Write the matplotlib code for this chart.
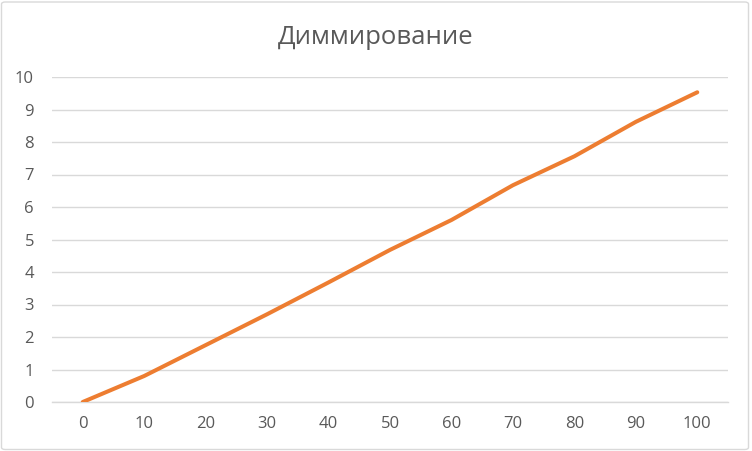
import matplotlib
matplotlib.use("Agg")
import matplotlib.pyplot as plt
from matplotlib.patches import FancyBboxPatch

categories = ["0", "10", "20", "30", "40", "50", "60", "70", "80", "90", "100"]
values = [0.0, 0.8, 1.75, 2.7, 3.68, 4.68, 5.6, 6.67, 7.56, 8.62, 9.53]
yticks = [0, 1, 2, 3, 4, 5, 6, 7, 8, 9, 10]
title = "Диммирование"

W, H = 752, 451
fig = plt.figure(figsize=(W / 100, H / 100), dpi=100)
fig.patch.set_facecolor("white")
border = FancyBboxPatch((1.5 / W, 1.5 / H), 1 - 5 / W, 1 - 3.5 / H,
                        boxstyle="round,pad=0,rounding_size=0.005",
                        transform=fig.transFigure, facecolor="none",
                        edgecolor="#D9D9D9", linewidth=1.0, zorder=5)
fig.patches.append(border)

left, right = 52, 728
top, bottom = 77, 402
ax = fig.add_axes([left / W, 1 - bottom / H, (right - left) / W, (bottom - top) / H])
ax.set_facecolor("none")

x = list(range(len(categories)))
ax.plot(x, values, color="#ED7D31", linewidth=2.9, solid_capstyle="round",
        solid_joinstyle="round", zorder=3)

ax.set_xlim(-0.5, len(categories) - 0.5)
ax.set_ylim(0, 10)
ax.set_xticks(x)
ax.set_xticklabels(categories)
ax.set_yticks(yticks)
ax.set_yticklabels([str(v) for v in yticks])
ax.grid(axis="y", color="#D9D9D9", linewidth=1.0, zorder=0)
ax.set_axisbelow(True)
for s in ["top", "right", "left"]:
    ax.spines[s].set_visible(False)
ax.spines["bottom"].set_color("#D9D9D9")
ax.spines["bottom"].set_linewidth(1.0)
ax.tick_params(axis="both", length=0, colors="#595959", labelsize=12)
ax.tick_params(axis="y", pad=13)
ax.tick_params(axis="x", pad=10)
for lab in ax.get_xticklabels() + ax.get_yticklabels():
    lab.set_fontfamily("Open Sans")

fig.text(0.5, 1 - 38 / H, title, ha="center", va="center", fontsize=18.5,
         color="#595959", family="Open Sans")

fig.savefig("out.png", dpi=100, facecolor="white")
